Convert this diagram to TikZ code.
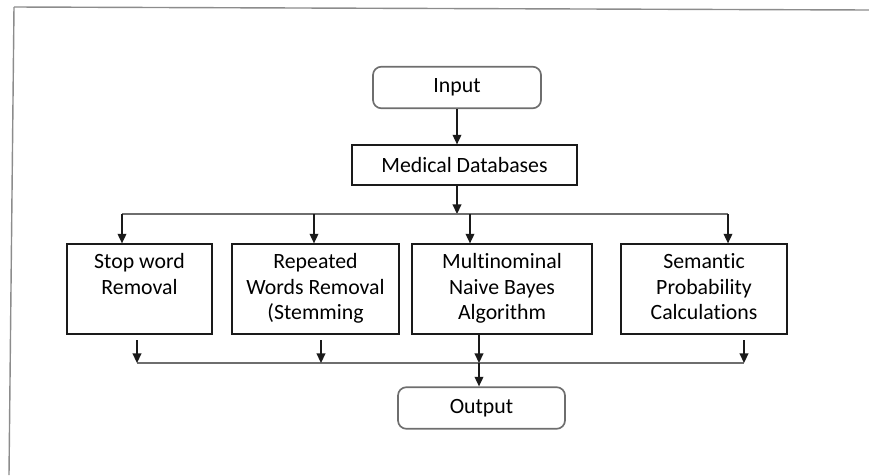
\documentclass[tikz,border=0pt]{standalone}
\usepackage{fontspec}
\setmainfont{Carlito}[Ligatures=NoCommon]
\usepackage{tikz}
\usetikzlibrary{arrows.meta, positioning}
\definecolor{flowline}{HTML}{1A1A1A}
\definecolor{flowbus}{HTML}{6E6E6E}
\definecolor{flowframe}{HTML}{8C8C8C}
\newcommand{\flowfont}{\fontsize{15.5}{18}\selectfont}
\newcommand{\boxlines}[1]{\parbox[c][2.25cm][t]{3.6cm}{\centering\rule{0pt}{0.62cm}#1}}
\tikzset{
  procbox/.style={draw=flowline, line width=0.9pt, rectangle, inner sep=0pt, minimum height=2.25cm, font=\flowfont},
  databox/.style={draw=flowline, line width=0.9pt, rectangle, inner sep=0pt, minimum width=5.625cm, minimum height=1cm, font=\flowfont},
  termbox/.style={draw=flowbus, line width=1.2pt, rounded corners=6pt, inner sep=0pt, minimum height=1.04cm, font=\flowfont},
  flowarrow/.style={draw=flowline, line width=0.9pt, -{Triangle[length=2.4mm,width=2.2mm]}},
  flowbusline/.style={draw=flowbus, line width=1.4pt},
}

\begin{document}
\begin{tikzpicture}[x=0.025cm, y=-0.025cm]
  \useasboundingbox (0,0) rectangle (869,475);
  % page frame
  \draw[flowframe, line width=1pt] (14,7) -- (869,10);
  \draw[flowframe, line width=1pt] (14,7) -- (9,475);

  \node[termbox, minimum width=4.2cm] (input) at (457,87.5) {Input};
  \node[databox] (meddb) at (464.5,165) {Medical Databases};

  \node[procbox, minimum width=3.625cm] (stop) at (139.5,289) {\boxlines{Stop word\\Removal}};
  \node[procbox, minimum width=4.175cm] (stem) at (315.5,289) {\boxlines{Repeated\\Words Removal\\(Stemming}};
  \node[procbox, minimum width=4.5cm] (mnb) at (502,289) {\boxlines{Multinominal\\Naive Bayes\\Algorithm}};
  \node[procbox, minimum width=4.15cm] (sem) at (704,289) {\boxlines{Semantic\\Probability\\Calculations}};

  \node[termbox, minimum width=4.175cm] (output) at (481.5,408) {Output};

  % top bus
  \coordinate (split) at (457,214);
  \coordinate (t1) at (122,214);
  \coordinate (t2) at (314,214);
  \coordinate (t3) at (470,214);
  \coordinate (t4) at (728,214);
  \draw[flowarrow] (input.south) -- (input.south |- meddb.north);
  \draw[flowarrow] (input.south |- meddb.south) -- (split);
  \draw[flowbusline] (t1) -- (t4);
  \draw[flowarrow] (t1) -- (t1 |- stop.north);
  \draw[flowarrow] (t2) -- (t2 |- stem.north);
  \draw[flowarrow] (t3) -- (t3 |- mnb.north);
  \draw[flowarrow] (t4) -- (t4 |- sem.north);

  % bottom bus
  \coordinate (s1) at (137,340);
  \coordinate (s2) at (321,340);
  \coordinate (s4) at (744,340);
  \coordinate (b1) at (137,363);
  \coordinate (b2) at (321,363);
  \coordinate (join) at (479,363);
  \coordinate (b4) at (744,363);
  \draw[flowbusline] (b1) -- (b4);
  \draw[flowarrow] (s1) -- (b1);
  \draw[flowarrow] (s2) -- (b2);
  \draw[flowarrow] (join |- mnb.south) -- (join);
  \draw[flowarrow] (s4) -- (b4);
  \draw[flowarrow] (join) -- (join |- output.north);
\end{tikzpicture}
\end{document}
